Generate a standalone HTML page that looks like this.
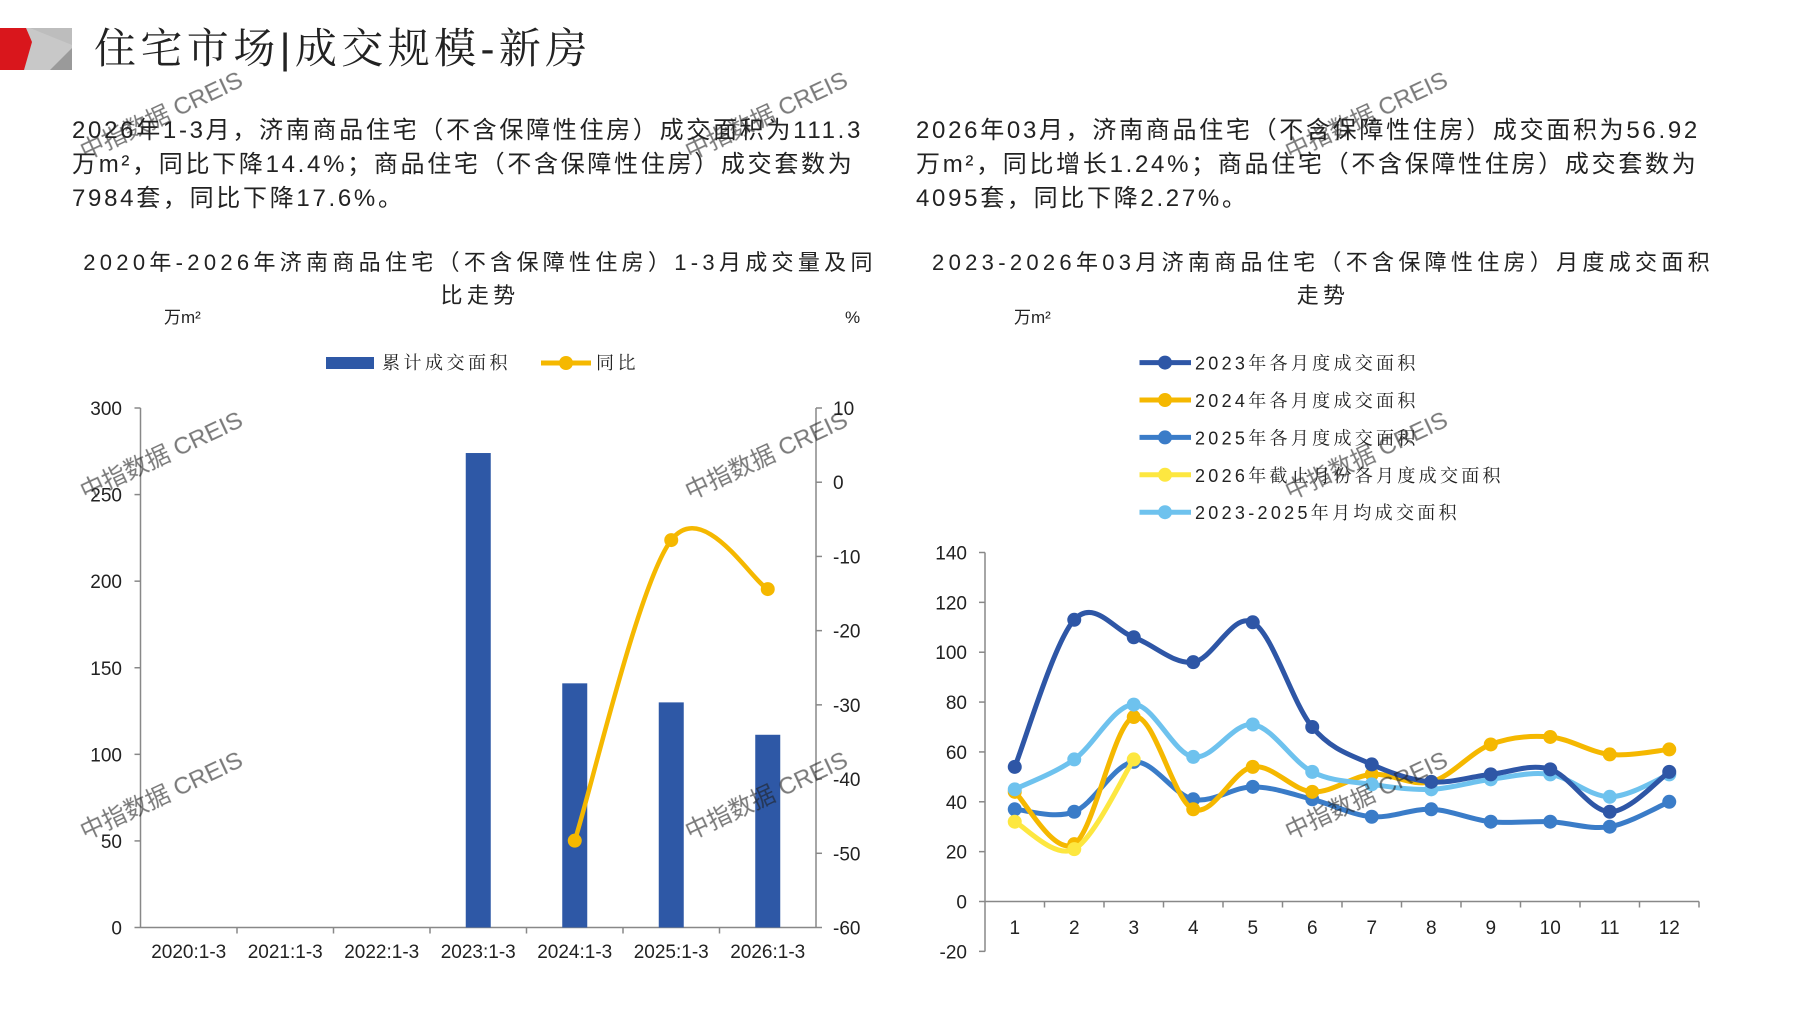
<!DOCTYPE html>
<html><head><meta charset="utf-8">
<style>
html,body{margin:0;padding:0;background:#fff;}
body{width:1797px;height:1010px;overflow:hidden;}
svg text{font-family:"Liberation Sans","Noto Sans CJK SC",sans-serif;fill:#222;}
.cn{font-family:"Liberation Sans","Noto Serif CJK SC","Noto Sans CJK SC",sans-serif;}
.wm{fill:#cfcfcf;font-size:24px;opacity:.6}
</style></head>
<body>
<svg id="s" width="1797" height="1010" viewBox="0 0 1797 1010" xmlns="http://www.w3.org/2000/svg">
<rect x="0" y="28" width="72" height="42" fill="#c8c8c8"/>
<polygon points="30,28 72,28 72,45" fill="#bdbdbd"/>
<polygon points="50,70 72,48 72,70" fill="#9a9a9a"/>
<polygon points="0,28 26,28 32,42 24,70 0,70" fill="#d9161c"/>
<text x="94" y="63" class="cn" font-size="42" letter-spacing="4.4" fill="#111">住宅市场|成交规模-新房</text>

<g class="cn" font-size="24" letter-spacing="2.7">
<text x="72" y="138">2026年1-3月，济南商品住宅（不含保障性住房）成交面积为111.3</text>
<text x="72" y="172">万m²，同比下降14.4%；商品住宅（不含保障性住房）成交套数为</text>
<text x="72" y="206">7984套，同比下降17.6%。</text>
<text x="916" y="138">2026年03月，济南商品住宅（不含保障性住房）成交面积为56.92</text>
<text x="916" y="172">万m²，同比增长1.24%；商品住宅（不含保障性住房）成交套数为</text>
<text x="916" y="206">4095套，同比下降2.27%。</text>
</g>

<g class="cn" font-size="22" letter-spacing="4.3" text-anchor="middle">
<text x="480" y="270">2020年-2026年济南商品住宅（不含保障性住房）1-3月成交量及同</text>
<text x="480" y="303">比走势</text>
<text x="1323" y="270">2023-2026年03月济南商品住宅（不含保障性住房）月度成交面积</text>
<text x="1323" y="303">走势</text>
</g>
<g class="cn" font-size="17">
<text x="164" y="323">万m²</text>
<text x="845" y="323">%</text>
<text x="1014" y="323">万m²</text>
</g>

<rect x="326" y="357" width="48" height="12" fill="#2e58a6"/>
<text x="382" y="369" class="cn" font-size="18" letter-spacing="3.5">累计成交面积</text>
<line x1="541" y1="363" x2="591" y2="363" stroke="#f5b800" stroke-width="5"/>
<circle cx="566" cy="363" r="7" fill="#f5b800"/>
<text x="596" y="369" class="cn" font-size="18" letter-spacing="3.5">同比</text>

<g stroke="#888" stroke-width="1.5" fill="none">
<line x1="140.5" y1="408" x2="140.5" y2="927.5"/>
<line x1="816" y1="408" x2="816" y2="927.5"/>
<line x1="140.5" y1="927.5" x2="816" y2="927.5"/>
</g>
<g id="lt"></g>
<g id="lc"></g>

<g id="rl"></g>
<g stroke="#888" stroke-width="1.5" fill="none">
<line x1="985" y1="552.5" x2="985" y2="951.5"/>
<line x1="985" y1="901.5" x2="1699" y2="901.5"/>
</g>
<g id="rt"></g>
<g id="rc"></g>

<g class="wm">
<text transform="translate(85,500) rotate(-25)">中指数据 CREIS</text>
<text transform="translate(85,840) rotate(-25)">中指数据 CREIS</text>
<text transform="translate(690,500) rotate(-25)">中指数据 CREIS</text>
<text transform="translate(690,840) rotate(-25)">中指数据 CREIS</text>
<text transform="translate(85,160) rotate(-25)">中指数据 CREIS</text>
<text transform="translate(690,160) rotate(-25)">中指数据 CREIS</text>
<text transform="translate(1290,160) rotate(-25)">中指数据 CREIS</text>
<text transform="translate(1290,500) rotate(-25)">中指数据 CREIS</text>
<text transform="translate(1290,840) rotate(-25)">中指数据 CREIS</text>
</g>
</svg>
<script>
var NS="http://www.w3.org/2000/svg";
function el(p,t,a,txt){var e=document.createElementNS(NS,t);for(var k in a)e.setAttribute(k,a[k]);if(txt!=null)e.textContent=txt;document.getElementById(p).appendChild(e);return e;}
function smooth(pts){var d="M"+pts[0][0]+","+pts[0][1];
 for(var i=0;i<pts.length-1;i++){var p0=pts[i-1]||pts[i],p1=pts[i],p2=pts[i+1],p3=pts[i+2]||p2;
 var c1x=p1[0]+(p2[0]-p0[0])/6,c1y=p1[1]+(p2[1]-p0[1])/6,c2x=p2[0]-(p3[0]-p1[0])/6,c2y=p2[1]-(p3[1]-p1[1])/6;
 d+=" C"+c1x+","+c1y+" "+c2x+","+c2y+" "+p2[0]+","+p2[1];}return d;}
var L0=140.5,L1=816,T=408,B=927.5;
function yl(v){return B-(v/300)*(B-T);} function yr(v){return B-((v+60)/70)*(B-T);}
for(var v=0;v<=300;v+=50){var y=yl(v);el("lt","line",{x1:134.5,y1:y,x2:140.5,y2:y,stroke:"#888","stroke-width":1.5});el("lt","text",{x:122,y:y+7,"text-anchor":"end","font-size":19},v);}
for(var v=-60;v<=10;v+=10){var y=yr(v);el("lt","line",{x1:816,y1:y,x2:822,y2:y,stroke:"#888","stroke-width":1.5});el("lt","text",{x:833,y:y+7,"font-size":19},v);}
var cw=(L1-L0)/7,cats=["2020:1-3","2021:1-3","2022:1-3","2023:1-3","2024:1-3","2025:1-3","2026:1-3"],bars=[0,0,0,274,141,130,111.3];
for(var i=0;i<7;i++){var cx=L0+cw*(i+0.5);if(i>0)el("lt","line",{x1:L0+cw*i,y1:B,x2:L0+cw*i,y2:B+6,stroke:"#888","stroke-width":1.5});
 el("lt","text",{x:cx,y:958,"text-anchor":"middle","font-size":19},cats[i]);
 if(bars[i]>0)el("lc","rect",{x:cx-12.5,y:yl(bars[i]),width:25,height:B-yl(bars[i]),fill:"#2e58a6"});}
var yo=[[4,-48.3],[5,-7.8],[6,-14.4]].map(function(a){return [L0+cw*(a[0]+0.5),yr(a[1])];});
el("lc","path",{d:smooth(yo),fill:"none",stroke:"#f5b800","stroke-width":4.5});
yo.forEach(function(p){el("lc","circle",{cx:p[0],cy:p[1],r:7,fill:"#f5b800"});});
var X0=985,X1=1699,Y140=552.5,Y0=901.5;
function ry(v){return Y0-v/140*(Y0-Y140);}
for(var v=-20;v<=140;v+=20){var y=ry(v);el("rt","line",{x1:979,y1:y,x2:985,y2:y,stroke:"#888","stroke-width":1.5});el("rt","text",{x:967,y:y+7,"text-anchor":"end","font-size":19},v);}
var mw=(X1-X0)/12;
for(var m=1;m<=12;m++){var cx=X0+mw*(m-0.5);el("rt","line",{x1:X0+mw*m,y1:Y0,x2:X0+mw*m,y2:Y0+6,stroke:"#888","stroke-width":1.5});el("rt","text",{x:cx,y:934,"text-anchor":"middle","font-size":19},m);}
var S=[
 ["#2e56a6","2023年各月度成交面积",[54,113,106,96,112,70,55,48,51,53,36,52]],
 ["#f5b800","2024年各月度成交面积",[44,23,74,37,54,44,51,48,63,66,59,61]],
 ["#3a7cc8","2025年各月度成交面积",[37,36,56,41,46,41,34,37,32,32,30,40]],
 ["#fde740","2026年截止月份各月度成交面积",[32,21,57]],
 ["#6ec2ee","2023-2025年月均成交面积",[45,57,79,58,71,52,47,45,49,51,42,51]]];
[2,1,3,4,0].forEach(function(k){var s=S[k];var pts=s[2].map(function(v,i){return [X0+mw*(i+0.5),ry(v)];});
 el("rc","path",{d:smooth(pts),fill:"none",stroke:s[0],"stroke-width":5});
 pts.forEach(function(p){el("rc","circle",{cx:p[0],cy:p[1],r:7,fill:s[0]});});});
S.forEach(function(s,i){var y=362.6+i*37.4;el("rl","line",{x1:1139.5,y1:y,x2:1191,y2:y,stroke:s[0],"stroke-width":5});
 el("rl","circle",{cx:1165,cy:y,r:7,fill:s[0]});el("rl","text",{x:1195,y:y+7,"font-size":18,"letter-spacing":3.3,"class":"cn"},s[1]);});
</script>
</body></html>
